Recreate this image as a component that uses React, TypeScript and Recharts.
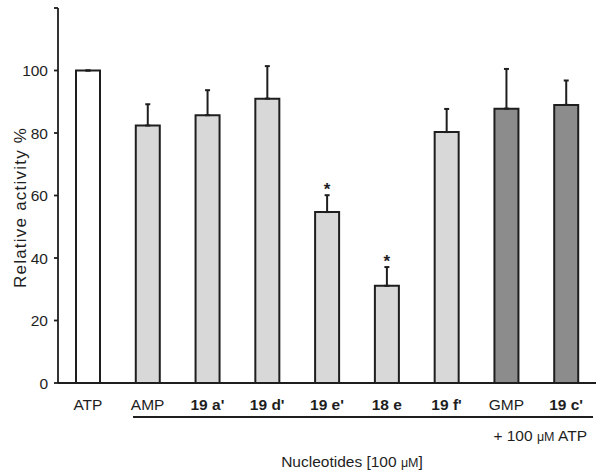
import React from 'react';
import { ComposedChart, Bar, Line, XAxis, YAxis, ErrorBar, Cell, Customized } from 'recharts';

const categories = ['ATP', 'AMP', "19 a'", "19 d'", "19 e'", '18 e', "19 f'", 'GMP', "19 c'"];
const activity = [100, 82.4, 85.7, 91.0, 54.7, 31.1, 80.3, 87.8, 89.0];
const errorUp = [0, 6.8, 8.0, 10.4, 5.4, 6.0, 7.4, 12.7, 7.8];
const significant = [false, false, false, false, true, true, false, false, false];
const boldLabel = [false, false, true, true, true, true, true, false, true];
const groups = ['control', 'test', 'test', 'test', 'test', 'test', 'test', 'gmp', 'gmp'];
const yTicks = [0, 20, 40, 60, 80, 100, 120];

const groupFill: Record<string, string> = { control: '#ffffff', test: '#d8d8d8', gmp: '#8c8c8c' };

const data = categories.map((name, i) => ({
  name,
  value: activity[i],
  err: [0, errorUp[i]],
  star: significant[i] ? activity[i] + errorUp[i] : null,
  group: groups[i],
}));

const INK = '#1e1e1e';

const XTick = (props: any) => {
  const { x, y, payload } = props;
  const idx = categories.indexOf(payload.value);
  return (
    <text x={x} y={y} dy="0.71em" textAnchor="middle" fontSize={15.5} fontWeight={boldLabel[idx] ? 'bold' : 'normal'} fill={INK}>
      {payload.value}
    </text>
  );
};

const YTick = (props: any) => {
  const { x, y, payload } = props;
  const label = payload.value === 120 ? '' : String(payload.value);
  return (
    <text x={x} y={y} dy="0.36em" textAnchor="end" fontSize={15.5} fill={INK}>
      {label}
    </text>
  );
};

const StarDot = (props: any) => {
  const { cx, cy, index } = props;
  if (cy == null || Number.isNaN(cy) || cx == null) return <g key={`s${index}`} />;
  return (
    <text key={`s${index}`} x={cx} y={cy} textAnchor="middle" fontSize={17} fontWeight="bold" fill={INK}>
      *
    </text>
  );
};

const Decorations = () => (
  <g>
    <line x1={133} y1={417} x2={593} y2={417} stroke={INK} strokeWidth={1.8} />
    <text x={587} y={441} textAnchor="end" fontSize={15.5} fill={INK}>
      + 100 <tspan fontSize={12.5}>μM</tspan> ATP
    </text>
    <text x={352} y={467} textAnchor="middle" fontSize={15.5} fill={INK}>
      Nucleotides [100 <tspan fontSize={12.5}>μM</tspan>]
    </text>
    <text
      x={26}
      y={208}
      transform="rotate(-90 26 208)"
      textAnchor="middle"
      fontSize={17}
      fill={INK}
      textLength={160}
      lengthAdjust="spacing"
    >
      Relative activity %
    </text>
  </g>
);

export default function App() {
  return (
    <div
      style={{
        position: 'absolute',
        left: 0,
        top: 0,
        width: 604,
        height: 470,
        background: '#ffffff',
        fontFamily: '"Liberation Sans", Arial, sans-serif',
      }}
    >
      <ComposedChart width={604} height={470} data={data} margin={{ top: 8, right: 8, bottom: 0, left: 0 }}>
        <XAxis
          dataKey="name"
          height={87}
          tickLine={false}
          tickSize={0}
          tickMargin={16}
          axisLine={{ stroke: INK, strokeWidth: 1.8 }}
          tick={<XTick />}
          interval={0}
        />
        <YAxis
          width={58}
          domain={[0, 120]}
          ticks={yTicks}
          interval={0}
          tickSize={4}
          tickMargin={6}
          axisLine={{ stroke: INK, strokeWidth: 1.8 }}
          tickLine={{ stroke: INK, strokeWidth: 1.8 }}
          tick={<YTick />}
        />
        <Bar dataKey="value" barSize={24} stroke={INK} strokeWidth={2} isAnimationActive={false}>
          {data.map((d, i) => (
            <Cell key={i} fill={groupFill[d.group]} />
          ))}
          <ErrorBar dataKey="err" direction="y" width={2.5} strokeWidth={2} stroke={INK} isAnimationActive={false} />
        </Bar>
        <Line
          dataKey="star"
          stroke="none"
          dot={<StarDot />}
          activeDot={false}
          legendType="none"
          isAnimationActive={false}
        />
        <Customized component={Decorations} />
      </ComposedChart>
    </div>
  );
}
